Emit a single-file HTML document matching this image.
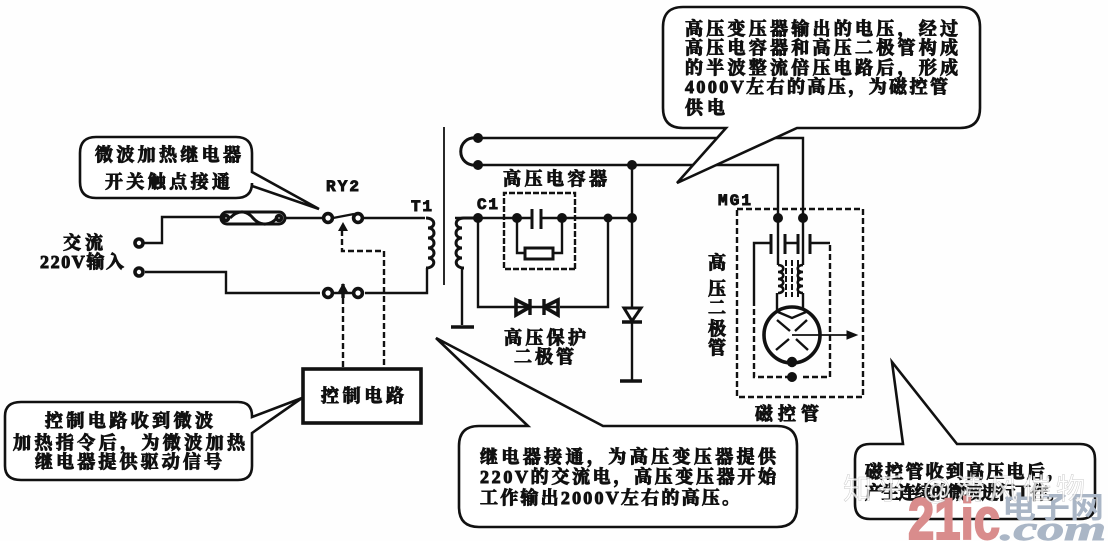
<!DOCTYPE html>
<html><head><meta charset="utf-8"><style>
html,body{margin:0;padding:0;background:#fff}
svg{display:block}
text{font-family:"Liberation Serif","Noto Serif CJK SC",serif;font-weight:700;fill:#111;stroke:#111;stroke-width:.95;font-size:18px}
.l{font-family:"Liberation Mono","Noto Serif CJK SC",monospace}
.w{fill:none;stroke:#111;stroke-width:2.4}
.b{fill:#fff;stroke:#111;stroke-width:2.6}
.d{fill:none;stroke:#111;stroke-width:2.4;stroke-dasharray:6 3}
circle.o{fill:#fff;stroke:#111;stroke-width:3.6}
circle.f{fill:#111}
</style></head><body>
<svg width="1108" height="541" viewBox="0 0 1108 541" xmlns="http://www.w3.org/2000/svg">
<rect width="1108" height="541" fill="#fefefe"/>
<!-- left circuit -->
<path class="w" d="M144 243H162V217H222M285 218H325M363 218H425M365 293H427V268M320 293H226V272H145"/>
<circle class="o" cx="139" cy="243" r="4"/><circle class="o" cx="139" cy="272" r="4"/>
<rect x="221" y="212" width="64" height="12" rx="6" fill="#fff" stroke="#111" stroke-width="3"/>
<path d="M230 218C240 208 248 212 253 218S268 228 277 218" fill="none" stroke="#111" stroke-width="3"/>
<circle class="o" cx="226" cy="218" r="2.5"/><circle class="o" cx="279" cy="218" r="2.5"/>
<circle class="o" cx="328" cy="218" r="4.4"/><circle class="o" cx="358" cy="218" r="4.4"/>
<circle class="o" cx="328" cy="293" r="4.4"/><circle class="o" cx="358" cy="293" r="4.4"/>
<path d="M333 218L354 214" class="w"/><path d="M333 293H354" class="w"/>
<path d="M343 222l-5 9h10z M343 283l-5 9h10z" fill="#111"/><path d="M343 284V298" stroke="#111" stroke-width="3.4"/>
<path class="d" d="M342 230V251H384V368"/><path class="d" d="M343 298V368"/>
<path class="w" stroke-width="3" style="stroke-width:3" d="M426 218C436 218 436 228 428 228C436 228 436 238 428 238C436 238 436 248 428 248C436 248 436 258 428 258C436 258 436 268 426 268"/>
<path d="M444 127V285" stroke="#111" stroke-width="1.8"/>
<!-- secondary -->
<path class="w" d="M478 138H803V218M478 165H778V218M632 165V381M455 218H632M478 218V307H516M558 307H608V218M462 268V325"/>
<path class="w" d="M478 138C455 135 455 168 478 165" style="stroke-width:3"/>
<circle class="f" cx="478" cy="138" r="5"/><circle class="f" cx="478" cy="165" r="5"/><circle class="f" cx="632" cy="165" r="5"/>
<path class="w" style="stroke-width:3" d="M478 218H464C454 218 454 228 462 228C454 228 454 238 462 238C454 238 454 248 462 248C454 248 454 258 462 258C454 258 454 268 464 268"/>
<path d="M451 327H474M620 381H642" stroke="#111" stroke-width="3.6"/>
<circle class="f" cx="478" cy="218" r="5"/><circle class="f" cx="517" cy="218" r="5"/><circle class="f" cx="562" cy="218" r="5"/><circle class="f" cx="608" cy="218" r="4.5"/><circle class="f" cx="632" cy="218" r="5"/>
<path class="d" d="M575 269V193H504V269H575" style="stroke-dasharray:6 2"/>
<rect x="533" y="205" width="8" height="24" fill="#fff"/>
<path d="M532 209V229M541 209V229" stroke="#111" stroke-width="3"/>
<path class="w" d="M517 218V253H525M553 253H562V218"/>
<rect x="525" y="248" width="28" height="11" fill="#fff" stroke="#111" stroke-width="3"/>
<rect x="515" y="300" width="45" height="14" fill="#fff"/>
<path d="M516 300L530 307L516 315Z M558 300L544 307L558 315Z" fill="#fff" stroke="#111" stroke-width="3.6"/>
<path d="M530 299V315M544 299V315" stroke="#111" stroke-width="3.4"/><path d="M516 307H558" stroke="#111" stroke-width="2.4"/>
<path d="M624 308H641L632 321Z" fill="#fff" stroke="#111" stroke-width="3"/><path d="M622 322H642" stroke="#111" stroke-width="3.4"/>
<!-- magnetron -->
<path class="d" d="M737 209H863V397H737V209"/>
<circle class="f" cx="778" cy="218" r="5"/><circle class="f" cx="803" cy="218" r="5"/>
<path d="M771 234V254M785 234V254M798 234V254M810 234V254" stroke="#111" stroke-width="3"/>
<path class="w" d="M785 243H798M771 243H754V300"/><path class="w" d="M810 243H830"/>
<path class="d" d="M830 245V377H800M754 300V377H790"/>
<path class="w" d="M778 218V265M803 218V265M777 310V293M803 310V293"/>
<path class="w" style="stroke-width:2.6" d="M778 265C785 265 785 272 778 272C785 272 785 279 778 279C785 279 785 286 778 286C785 286 785 293 778 293M803 265C796 265 796 272 803 272C796 272 796 279 803 279C796 279 796 286 803 286C796 286 796 293 803 293"/>
<path d="M786 260V297M792 260V297M798 260V297" stroke="#111" stroke-width="2" stroke-dasharray="6 2"/>
<circle cx="792" cy="335" r="28" fill="#fff" stroke="#111" stroke-width="3.6"/>
<path class="w" d="M778 312L792 318L806 312M777 320L790 331M807 320L795 331M776 350L789 339M808 350L796 339"/>
<path d="M792 335H848" stroke="#111" stroke-width="1.8"/><path d="M847 331L857 335L847 339Z" fill="#111" stroke="#111"/>
<circle class="f" cx="792" cy="362" r="5.2"/><circle class="f" cx="792" cy="377" r="5"/>
<!-- control box -->
<rect x="303" y="369" width="118" height="54" fill="#fff" stroke="#111" stroke-width="3.6"/>
<!-- callouts -->
<path class="b" d="M96 137H236Q252 137 252 153V172L319 209L252 186V183Q252 198 236 198H96Q80 198 80 182V153Q80 137 96 137Z"/>
<path class="b" d="M21 402H238Q252 402 252 416V417L302 398L252 433V466Q252 480 238 480H21Q5 480 5 466V416Q5 402 21 402Z"/>
<path class="b" d="M683 7H960Q980 7 980 27V108Q980 128 960 128H797L677 183L726 128H683Q663 128 663 108V27Q663 7 683 7Z"/>
<path class="b" d="M479 426H528L436 338L603 426H777Q797 426 797 446V507Q797 527 777 527H479Q459 527 459 507V446Q459 426 479 426Z"/>
<path class="b" d="M870 444H903L892 362L957 444H1080Q1095 444 1095 459V504Q1095 519 1080 519H870Q855 519 855 504V459Q855 444 870 444Z"/>
<!-- labels -->
<text x="95" y="161" textLength="146">微波加热继电器</text>
<text x="105" y="188" textLength="125">开关触点接通</text>
<text class="l" x="326" y="191" style="font-size:16px" textLength="33">RY2</text>
<text class="l" x="411" y="211" style="font-size:16px" textLength="21">T1</text>
<text x="63" y="249" textLength="40">交流</text>
<text x="40" y="268" textLength="84">220V输入</text>
<text class="l" x="477" y="209" style="font-size:16px" textLength="21">C1</text>
<text x="503" y="185" textLength="104">高压电容器</text>
<text x="504" y="344" textLength="82">高压保护</text>
<text x="514" y="363" textLength="60">二极管</text>
<text class="l" x="718" y="205" style="font-size:16px" textLength="33">MG1</text>
<text x="708" y="269">高</text><text x="708" y="295">压</text><text x="708" y="314">二</text><text x="708" y="335">极</text><text x="708" y="354">管</text>
<text x="755" y="420" textLength="64">磁控管</text>
<text x="321" y="402" textLength="83">控制电路</text>
<text x="45" y="427" textLength="168">控制电路收到微波</text>
<text x="13" y="449" textLength="232">加热指令后，为微波加热</text>
<text x="35" y="468" textLength="187">继电器提供驱动信号</text>
<text x="685" y="35" textLength="273">高压变压器输出的电压，经过</text>
<text x="685" y="54" textLength="273">高压电容器和高压二极管构成</text>
<text x="685" y="74" textLength="273">的半波整流倍压电路后，形成</text>
<text x="685" y="93" textLength="263">4000V左右的高压，为磁控管</text>
<text x="685" y="114" textLength="40">供电</text>
<text x="480" y="463" textLength="296">继电器接通，为高压变压器提供</text>
<text x="480" y="483" textLength="296">220V的交流电，高压变压器开始</text>
<text x="480" y="504" textLength="260">工作输出2000V左右的高压。</text>
<text x="865" y="478" textLength="200">磁控管收到高压电后，</text>
<text x="865" y="499" textLength="200">产生连续的微波进行工作。</text>
<!-- watermarks -->
<text x="908" y="539" lengthAdjust="spacingAndGlyphs" style="font-family:'Liberation Sans',sans-serif;font-size:58px;fill:#d98c8c;stroke:#d98c8c;stroke-width:2" textLength="92">21ic</text>
<text x="1002" y="518" lengthAdjust="spacingAndGlyphs" style="font-family:'Liberation Sans','Noto Sans CJK SC',sans-serif;font-size:30px;font-weight:700;fill:#aab6c6;stroke:none" textLength="102">电子网</text>
<text x="1000" y="540" lengthAdjust="spacingAndGlyphs" style="font-family:'Liberation Serif',serif;font-style:italic;font-size:34px;fill:#aab6c6;stroke:#aab6c6" textLength="106">.com</text>
<text x="843" y="499" style="font-family:'Liberation Sans','Noto Sans CJK SC',sans-serif;font-size:29px;font-weight:400;fill:#fff;fill-opacity:.8;stroke:#999;stroke-opacity:.5;stroke-width:.5" textLength="242">知乎 @清风催物</text>
</svg>
</body></html>
